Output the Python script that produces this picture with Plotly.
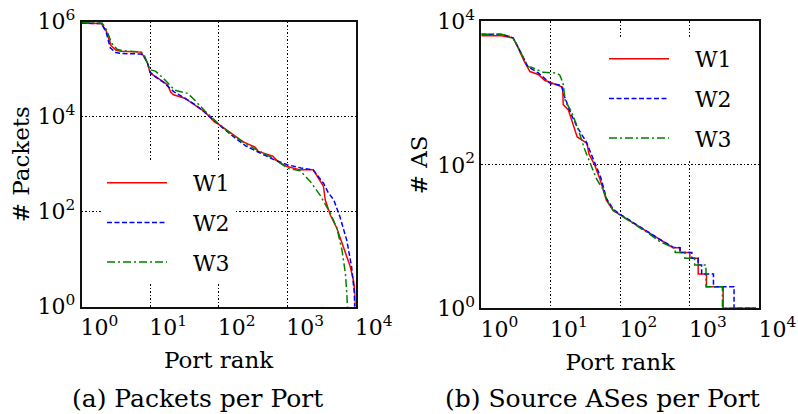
import plotly.graph_objects as go

# ---------------- data: (a) Packets per Port ----------------
pk_w1_rank = [1, 1.95, 2.3, 2.7, 3.2, 3.8, 7.4, 7.9, 9.1, 9.9, 11, 14, 18, 20, 22, 32, 45, 63, 87, 102,
              229, 339, 380, 562, 617, 741, 1000, 1549, 2399, 2884, 3388, 3589, 4266, 5309, 6607, 8318,
              9333, 9772, 9886]
pk_w1_val = [933000, 912000, 631000, 316000, 251000, 240000, 229000, 200000, 141000, 89000, 76000,
             60000, 47000, 33000, 29000, 24500, 17800, 12600, 7800, 6800, 2950, 2290, 1860, 1550, 1480,
             1120, 890, 760, 760, 500, 340, 178, 85, 45, 18, 7, 3.4, 1.9, 1]

pk_w2_rank = [1, 1.95, 2.29, 2.63, 3.16, 3.8, 7.41, 8.32, 9.33, 10, 11.2, 15.8, 22.4, 31.6, 44.7, 63.1,
              100, 158, 251, 398, 631, 1000, 1585, 2399, 2884, 3388, 3981, 4786, 5888, 7413, 8710,
              9550, 9660]
pk_w2_val = [933000, 912000, 603000, 282000, 224000, 214000, 209000, 178000, 126000, 85000, 74000,
             52500, 33100, 25100, 18200, 12300, 6900, 3980, 2400, 1740, 1260, 977, 832, 759, 525, 398,
             251, 178, 78, 25, 6.9, 1.95, 1]

pk_w3_rank = [1, 2, 2.34, 2.75, 3.31, 3.98, 7.41, 8.32, 9.55, 10.5, 12, 15.8, 22.9, 35.5, 44.7, 63.1,
              100, 158, 251, 398, 631, 1000, 1549, 2188, 3020, 4266, 5309, 6310, 7079, 7413, 7586]
pk_w3_val = [955000, 933000, 661000, 355000, 263000, 245000, 229000, 191000, 112000, 95500, 91200,
             63100, 36300, 30900, 22400, 13200, 7080, 4170, 2630, 1860, 1320, 832, 724, 427, 224, 93,
             45, 15.5, 5, 1.9, 1]

# ---------------- data: (b) Source ASes per Port ----------------
as_w1_rank = [1, 1.95, 2.51, 2.86, 3.39, 4.17, 5.01, 6.61, 8.13, 10, 13.5, 14.8, 15.1, 17.8, 20, 24,
              30.9, 33.1, 35.5, 42.7, 51.3, 63.1, 79.4, 100, 155, 240, 372, 575,
              724, 724, 1000, 1000, 1320, 1320, 1740, 1740, 3020, 3020, 9000]
as_w1_val = [6310, 6310, 6030, 5890, 4270, 2750, 2000, 1820, 1510, 1410, 1260, 1200, 692, 589, 417, 245,
             209, 200, 141, 100, 62, 32, 23, 20, 15.3, 11.7, 8.9, 7,
             7, 6, 6, 5, 5, 3, 3, 2, 2, 1, 1]

as_w2_rank = [1, 1.95, 2.51, 2.86, 3.39, 4.17, 4.68, 6.61, 8.13, 10, 14.1, 15.8, 19.7, 24.5, 32.4, 40.7,
              45.7, 52.5, 63.1, 79.4, 100, 155, 240, 372, 575,
              724, 724, 1070, 1070, 1320, 1320, 1480, 1480, 2190, 2190, 4330, 4330, 9000]
as_w2_val = [6610, 6610, 6170, 5890, 4370, 2950, 2340, 1910, 1580, 1350, 1290, 891, 501, 324, 209, 123,
             95, 66, 34, 24, 20.4, 15.5, 12, 9.1, 7.1,
             7, 6, 6, 5, 5, 4, 4, 3, 3, 2, 2, 1, 1]

as_w3_rank = [1, 1.95, 2.51, 2.86, 3.39, 4.17, 4.68, 5.25, 7.76, 12, 13.5, 15, 16.2, 19.7, 24.5, 30.9,
              38, 45.7, 56.9, 64.6, 79.4, 100, 155, 240, 372, 617,
              617, 851, 851, 1175, 1175, 1710, 1710, 2950, 2950, 9000]
as_w3_val = [6610, 6610, 6170, 5890, 4370, 2880, 2340, 2290, 1950, 1910, 1780, 1380, 759, 562, 324, 162,
             100, 63, 45, 32, 23, 20, 15, 11.5, 8.5, 6.8,
             6, 6, 5, 5, 4, 4, 2, 2, 1, 1]

series_names = ["W1", "W2", "W3"]
x_tickvals = [1, 10, 100, 1000, 10000]
x_ticktext = ["10<sup>0</sup>", "10<sup>1</sup>", "10<sup>2</sup>", "10<sup>3</sup>", "10<sup>4</sup>"]
y1_tickvals = [1, 100, 10000, 1000000]
y1_ticktext = ["10<sup>0</sup>", "10<sup>2</sup>", "10<sup>4</sup>", "10<sup>6</sup>"]
y2_tickvals = [1, 100, 10000]
y2_ticktext = ["10<sup>0</sup>", "10<sup>2</sup>", "10<sup>4</sup>"]
captions = ["(a) Packets per Port", "(b) Source ASes per Port"]

# ---------------- styling ----------------
colors = ["#ff0000", "#0000ff", "#008000"]
dashes = ["solid", "5px,2.5px", "8px,3px,2px,3px"]
SERIF = "DejaVu Serif"
W, H = 798, 414
NB = "\u00a0\u00a0\u00a0"

fig = go.Figure()

left = [(pk_w1_rank, pk_w1_val), (pk_w2_rank, pk_w2_val), (pk_w3_rank, pk_w3_val)]
right = [(as_w1_rank, as_w1_val), (as_w2_rank, as_w2_val), (as_w3_rank, as_w3_val)]

for i, (r, v) in enumerate(left):
    fig.add_trace(go.Scatter(x=r, y=v, mode="lines", name=NB + series_names[i],
                             line=dict(color=colors[i], width=1.5, dash=dashes[i]),
                             xaxis="x", yaxis="y", legend="legend",
                             legendgroup="a" + str(i)))
for i, (r, v) in enumerate(right):
    fig.add_trace(go.Scatter(x=r, y=v, mode="lines", name=NB + series_names[i],
                             line=dict(color=colors[i], width=1.5, dash=dashes[i]),
                             xaxis="x2", yaxis="y2", legend="legend2",
                             legendgroup="b" + str(i)))

tickfont = dict(family=SERIF, size=22, color="black")
titlefont = dict(family=SERIF, size=23, color="black")
GRIDDASH = "1.5px,2px"

common_x = dict(type="log", range=[0, 4], tickvals=x_tickvals, ticktext=x_ticktext,
                showgrid=True, gridcolor="black", griddash=GRIDDASH, gridwidth=1.2,
                showline=True, linecolor="#111111", linewidth=1.6, mirror=True,
                ticks="", tickfont=tickfont, ticklabelshift=18, automargin=False,
                title=dict(text="Port rank", font=titlefont, standoff=13))
common_y = dict(type="log", showgrid=True, gridcolor="black", griddash=GRIDDASH, gridwidth=1.2,
                showline=True, linecolor="#111111", linewidth=1.6, mirror=True,
                ticks="", tickfont=tickfont, automargin=False)

def px(xp):
    return xp / W

def py(yp):
    return 1 - yp / H

fig.update_layout(
    width=W, height=H,
    margin=dict(l=0, r=0, t=0, b=0),
    paper_bgcolor="white", plot_bgcolor="white",
    font=dict(family=SERIF),
    xaxis=dict(common_x, domain=[px(81.5), px(355.7)], anchor="y"),
    xaxis2=dict(common_x, domain=[px(481.3), px(759.3)], anchor="y2"),
    yaxis=dict(common_y, domain=[py(306.7), py(21.7)], range=[0, 6], anchor="x",
               tickvals=y1_tickvals, ticktext=y1_ticktext,
               title=dict(text="# Packets", font=titlefont, standoff=1)),
    yaxis2=dict(common_y, domain=[py(308.3), py(21.4)], range=[0, 4], anchor="x2",
                tickvals=y2_tickvals, ticktext=y2_ticktext,
                title=dict(text="# AS", font=titlefont, standoff=3)),
    legend=dict(x=px(102), y=py(162), xanchor="left", yanchor="top",
                bgcolor="white", borderwidth=0, itemwidth=60, tracegroupgap=8,
                font=dict(family=SERIF, size=22, color="black")),
    legend2=dict(x=px(604), y=py(38), xanchor="left", yanchor="top",
                 bgcolor="white", borderwidth=0, itemwidth=60, tracegroupgap=8,
                 font=dict(family=SERIF, size=22, color="black")),
    annotations=[
        dict(text=captions[0], x=px(197), y=0, xref="paper", yref="paper",
             xanchor="center", yanchor="bottom", showarrow=False, borderpad=0,
             font=dict(family=SERIF, size=25, color="black")),
        dict(text=captions[1], x=px(602.5), y=0, xref="paper", yref="paper",
             xanchor="center", yanchor="bottom", showarrow=False, borderpad=0,
             font=dict(family=SERIF, size=25, color="black")),
    ],
)

fig.write_html("out.html")
